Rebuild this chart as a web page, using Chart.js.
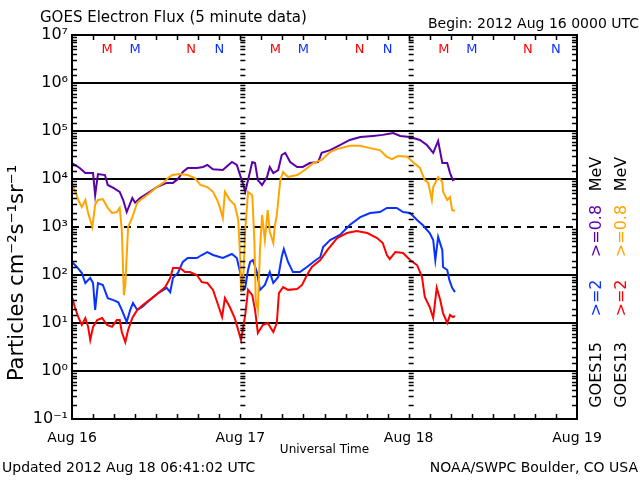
<!DOCTYPE html>
<html>
<head>
<meta charset="utf-8">
<title>GOES Electron Flux</title>
<script src="https://cdn.jsdelivr.net/npm/chart.js@4.4.1/dist/chart.umd.min.js"></script>
<style>
  html, body { margin: 0; padding: 0; background: #fff; }
  canvas { display: block; }
</style>
</head>
<body>
<canvas id="goesChart" width="640" height="480"></canvas>
<script>
// time axis: hours since 2012 Aug 16 0000 UTC
var dayLabels = ['Aug 16', 'Aug 17', 'Aug 18', 'Aug 19'];

// GOES15 >=0.8 MeV
var g15LowHours = [0, 1.1, 1.9, 2.6, 3.0, 3.3, 3.7, 4.7, 5.1, 5.9, 6.8, 7.3, 7.8, 8.6, 9.0, 9.7, 11.1, 12.1, 13.5, 14.4,
  15.1, 15.8, 16.5, 17.8, 18.7, 19.3, 20.1, 21.5, 22.8, 23.5, 24.2, 24.7, 25.1, 25.7, 26.1, 26.5, 27.1, 27.8, 28.2, 28.7,
  29.4, 29.9, 30.4, 31.1, 32.1, 32.9, 33.9, 35.1, 35.6, 36.8, 38.2, 39.6, 41.1, 42.9, 44.3, 45.8, 46.8, 48.2, 49.6, 50.6,
  51.5, 52.2, 52.8, 53.5, 53.9, 54.3, 54.6];
var g15LowFlux = [21500, 17000, 13300, 13300, 13300, 4600, 12700, 12100, 7500, 6500, 5400, 3650, 2050, 4000, 3200, 4000, 5400, 6800, 8300, 8300,
  10000, 14000, 17000, 17000, 17800, 19600, 16000, 15400, 22600, 19600, 9500, 5400, 9500, 22600, 21500, 9500, 7500, 11000, 17800, 13300,
  15400, 31600, 35000, 22600, 17800, 17800, 21500, 22600, 35000, 40000, 51000, 65000, 75000, 79000, 83000, 91000, 79000, 75000, 65000, 51000,
  35000, 62000, 21500, 21500, 13300, 9500, 10000];

// GOES13 >=0.8 MeV
var g13LowHours = [0, 0.4, 0.9, 1.4, 1.9, 2.3, 2.9, 3.3, 3.7, 4.4, 5.1, 5.7, 6.4, 6.8, 7.1, 7.4, 7.6, 8.0, 8.6, 9.3,
  10.1, 11.1, 12.1, 13.0, 13.7, 14.3, 15.4, 16.5, 17.5, 18.3, 19.3, 20.1, 20.7, 21.1, 21.5, 21.8, 22.5, 23.2, 23.7, 24.0,
  24.1, 24.4, 24.7, 25.1, 25.7, 26.0, 26.2, 26.5, 26.8, 27.1, 27.5, 27.9, 28.2, 28.7, 28.9, 29.2, 29.7, 30.1, 30.8, 32.1,
  33.2, 34.4, 35.6, 36.8, 37.8, 39.6, 41.1, 42.5, 43.9, 44.9, 45.6, 46.5, 47.8, 48.6, 49.6, 50.3, 50.8, 51.3, 51.5, 52.2,
  52.8, 52.9, 53.5, 53.9, 54.2, 54.6];
var g13LowFlux = [7500, 5900, 3650, 2600, 3650, 1960, 1000, 2900, 3650, 3800, 2500, 1960, 2050, 2500, 870, 38, 62, 1000, 1600, 3200,
  4000, 5100, 6800, 8300, 10500, 12100, 12700, 12100, 10500, 7500, 6800, 5400, 3650, 2500, 1540, 5400, 3650, 2900, 1400, 205,
  44, 79, 870, 5400, 4600, 535, 30, 19, 330, 1780, 535, 2260, 790, 460, 1000, 1780, 9500, 14000, 11000, 12100,
  15400, 21500, 25000, 36500, 42000, 49000, 49000, 44000, 40000, 29000, 26000, 30000, 29000, 22600, 17000, 9500, 8300, 3650, 6800, 11000,
  8700, 5400, 3650, 4200, 2260, 2150];

// GOES15 >=2 MeV
var g15HighHours = [0, 0.7, 1.4, 1.9, 2.6, 3.0, 3.3, 3.7, 4.4, 5.1, 5.9, 6.6, 7.1, 7.8, 8.3, 8.7, 9.3, 10.0, 11.1, 12.3,
  13.5, 14.0, 14.4, 15.1, 15.8, 16.5, 17.8, 18.5, 19.3, 20.1, 21.5, 22.8, 23.5, 24.0, 24.4, 24.7, 25.1, 25.4, 25.8, 26.4,
  26.8, 27.5, 28.2, 28.7, 29.4, 29.9, 30.2, 30.8, 31.5, 32.5, 33.5, 34.4, 35.4, 35.8, 36.8, 38.2, 39.6, 41.1, 42.5, 43.9,
  44.9, 46.3, 47.2, 48.2, 49.2, 50.0, 51.0, 51.5, 51.8, 52.2, 52.8, 52.9, 53.5, 53.8, 54.2, 54.6];
var g15HighFlux = [187, 147, 110, 68, 87, 68, 18.7, 68, 62, 33, 30, 27, 18.7, 10.5, 18.7, 26, 18.7, 21.5, 30, 42,
  54, 44, 87, 110, 187, 226, 226, 261, 301, 261, 226, 274, 226, 110, 49, 54, 127, 187, 205, 110,
  49, 62, 115, 68, 91, 237, 348, 187, 115, 115, 147, 187, 237, 383, 535, 681, 1100, 1600, 1960, 2050,
  2500, 2500, 2050, 1960, 1400, 1100, 750, 535, 205, 620, 330, 147, 127, 79, 54, 44];

// GOES13 >=2 MeV
var g13HighHours = [0, 0.4, 0.9, 1.4, 1.9, 2.3, 2.6, 3.0, 3.6, 4.3, 5.0, 5.7, 6.4, 6.8, 7.1, 7.6, 8.0, 8.6, 9.3, 10.1,
  11.4, 12.3, 13.3, 14.0, 14.4, 15.4, 16.1, 16.8, 17.8, 18.5, 19.3, 20.1, 20.7, 21.4, 21.8, 22.5, 23.2, 23.7, 24.1, 24.7,
  25.1, 25.7, 26.1, 26.5, 27.2, 27.9, 28.7, 29.2, 29.5, 30.1, 30.8, 32.1, 32.8, 33.5, 34.2, 35.4, 36.4, 37.8, 39.2, 40.6,
  42.1, 43.5, 44.3, 44.9, 45.3, 46.1, 47.2, 48.2, 49.2, 49.9, 50.3, 51.0, 51.5, 52.0, 52.5, 52.9, 53.5, 53.9, 54.3, 54.6];
var g13HighFlux = [35, 21.5, 13.3, 9.1, 12.7, 8.3, 4.4, 8.3, 11.5, 12.7, 9.1, 8.3, 11.5, 11.5, 6.5, 4.0, 7.1, 12.7, 18.7, 23.7,
  33, 42, 56, 87, 140, 140, 115, 115, 100, 71, 68, 49, 27, 13.3, 33, 21.5, 12.7, 7.1, 4.4, 14.7,
  49, 38, 18.7, 6.2, 9.1, 10, 6.5, 10, 42, 56, 49, 51, 62, 100, 147, 205, 330, 590, 750, 826,
  750, 590, 464, 261, 215, 301, 287, 205, 161, 91, 35, 21.5, 12.7, 54, 30, 16.1, 10, 14.7, 13.3, 14];

// local midnight (M) and noon (N) markers, hours UT
var g13Midnight = [5, 29, 53];
var g15Midnight = [9, 33, 57];
var g13Noon = [17, 41, 65];
var g15Noon = [21, 45, 69];

var purple = '#5c00a8';
var orange = '#ffa500';
var blue = '#0a32ff';
var red = '#ff0000';
var font = 'DejaVu Sans';

var supMap = { '-': '\u207B', '0': '\u2070', '1': '\u00B9', '2': '\u00B2', '3': '\u00B3',
  '4': '\u2074', '5': '\u2075', '6': '\u2076', '7': '\u2077', '8': '\u2078', '9': '\u2079' };

function sup(n) {
  return String(n).split('').map(function(ch) { return supMap[ch]; }).join('');
}

function isDecade(v) {
  var l = Math.log10(v);
  return Math.abs(l - Math.round(l)) < 1e-6;
}

function points(hours, flux) {
  return hours.map(function(h, i) { return { x: h, y: flux[i] }; });
}

function series(label, hours, flux, color) {
  return {
    label: label,
    data: points(hours, flux),
    borderColor: color,
    borderWidth: 2,
    pointRadius: 0,
    tension: 0,
    fill: false
  };
}

function vtext(ctx, str, x, y, color, size) {
  ctx.save();
  ctx.translate(x, y);
  ctx.rotate(-Math.PI / 2);
  ctx.fillStyle = color;
  ctx.font = size + 'px "' + font + '"';
  ctx.textAlign = 'center';
  ctx.textBaseline = 'middle';
  ctx.fillText(str, 0, 0);
  ctx.restore();
}

var decor = {
  id: 'goesDecor',
  beforeDatasetsDraw: function(chart) {
    var ctx = chart.ctx, a = chart.chartArea, ys = chart.scales.y;
    var py = ys.getPixelForValue(1000);
    ctx.save();
    ctx.strokeStyle = '#000';
    ctx.lineWidth = 2;
    ctx.setLineDash([7, 6]);
    ctx.beginPath();
    ctx.moveTo(a.left, py);
    ctx.lineTo(a.right, py);
    ctx.stroke();
    ctx.restore();
  },
  afterDatasetsDraw: function(chart) {
    var ctx = chart.ctx, a = chart.chartArea;
    var xs = chart.scales.x, ys = chart.scales.y;
    ctx.save();
    ctx.strokeStyle = '#000';
    ctx.lineWidth = 2;
    ctx.strokeRect(a.left, a.top, a.right - a.left, a.bottom - a.top);

    // minor log ticks on the borders and on the day boundaries
    ctx.lineWidth = 1.5;
    var dayX = [xs.getPixelForValue(24), xs.getPixelForValue(48)];
    ys.ticks.forEach(function(t) {
      if (isDecade(t.value)) return;
      var p = Math.round(ys.getPixelForValue(t.value)) + 0.5;
      ctx.beginPath();
      ctx.moveTo(a.left, p); ctx.lineTo(a.left + 5, p);
      ctx.moveTo(a.right, p); ctx.lineTo(a.right - 5, p);
      dayX.forEach(function(dx) { ctx.moveTo(dx, p); ctx.lineTo(dx + 5, p); });
      ctx.stroke();
    });

    // 3-hour ticks on top and bottom
    xs.ticks.forEach(function(t) {
      if (t.value <= 0 || t.value >= 72) return;
      var p = Math.round(xs.getPixelForValue(t.value)) + 0.5;
      ctx.beginPath();
      ctx.moveTo(p, a.bottom); ctx.lineTo(p, a.bottom - 5);
      ctx.moveTo(p, a.top); ctx.lineTo(p, a.top + 5);
      ctx.stroke();
    });

    // M / N markers
    ctx.font = '13px "' + font + '"';
    ctx.textAlign = 'center';
    ctx.textBaseline = 'middle';
    function marks(hours, letter, color) {
      ctx.fillStyle = color;
      hours.forEach(function(h) { ctx.fillText(letter, xs.getPixelForValue(h), 50); });
    }
    marks(g13Midnight, 'M', red);
    marks(g15Midnight, 'M', blue);
    marks(g13Noon, 'N', red);
    marks(g15Noon, 'N', blue);

    // titles and notes
    ctx.fillStyle = '#000';
    ctx.font = '15px "' + font + '"';
    ctx.textAlign = 'left';
    ctx.fillText('GOES Electron Flux (5 minute data)', 40, 18);
    ctx.font = '14px "' + font + '"';
    ctx.textAlign = 'right';
    ctx.fillText('Begin: 2012 Aug 16 0000 UTC', 639, 24);
    ctx.textAlign = 'left';
    ctx.fillText('Updated 2012 Aug 18 06:41:02 UTC', 2, 468);
    ctx.textAlign = 'right';
    ctx.fillText('NOAA/SWPC Boulder, CO USA', 638, 468);
    ctx.font = '12px "' + font + '"';
    ctx.textAlign = 'center';
    ctx.fillText('Universal Time', (a.left + a.right) / 2, 450);

    vtext(ctx, 'Particles cm' + sup(-2) + 's' + sup(-1) + 'sr' + sup(-1), 18, 273, '#000', 21);

    vtext(ctx, 'GOES15', 597, 375, '#000', 16);
    vtext(ctx, '>=2', 597, 298, blue, 16);
    vtext(ctx, '>=0.8', 597, 231, purple, 16);
    vtext(ctx, 'MeV', 597, 174, '#000', 16);
    vtext(ctx, 'GOES13', 622, 375, '#000', 16);
    vtext(ctx, '>=2', 622, 298, red, 16);
    vtext(ctx, '>=0.8', 622, 231, orange, 16);
    vtext(ctx, 'MeV', 622, 174, '#000', 16);
    ctx.restore();
  }
};

new Chart(document.getElementById('goesChart'), {
  type: 'line',
  data: {
    datasets: [
      series('GOES13 >=0.8 MeV', g13LowHours, g13LowFlux, orange),
      series('GOES15 >=0.8 MeV', g15LowHours, g15LowFlux, purple),
      series('GOES13 >=2 MeV', g13HighHours, g13HighFlux, red),
      series('GOES15 >=2 MeV', g15HighHours, g15HighFlux, blue)
    ]
  },
  options: {
    responsive: false,
    animation: false,
    devicePixelRatio: 1,
    layout: { padding: { top: 35, right: 63, bottom: 0, left: 0 } },
    plugins: { legend: { display: false }, tooltip: { enabled: false } },
    scales: {
      x: {
        type: 'linear',
        min: 0,
        max: 72,
        afterFit: function(s) { s.height = 61; },
        border: { display: false },
        grid: { display: false },
        ticks: {
          stepSize: 3,
          autoSkip: false,
          maxRotation: 0,
          padding: 3,
          color: '#000',
          font: { family: font, size: 14 },
          callback: function(v) { return v % 24 === 0 ? dayLabels[v / 24] : ''; }
        }
      },
      y: {
        type: 'logarithmic',
        min: 0.1,
        max: 1e7,
        afterFit: function(s) { s.width = 72; },
        border: { display: false },
        grid: {
          drawTicks: false,
          lineWidth: 2,
          color: function(c) {
            var v = c.tick && c.tick.value;
            return v && isDecade(v) && Math.round(Math.log10(v)) !== 3 ? '#000' : 'rgba(0,0,0,0)';
          }
        },
        ticks: {
          autoSkip: false,
          padding: 4,
          color: '#000',
          font: { family: font, size: 16 },
          callback: function(v) { return isDecade(v) ? '10' + sup(Math.round(Math.log10(v))) : ''; }
        }
      }
    }
  },
  plugins: [decor]
});
</script>
</body>
</html>
